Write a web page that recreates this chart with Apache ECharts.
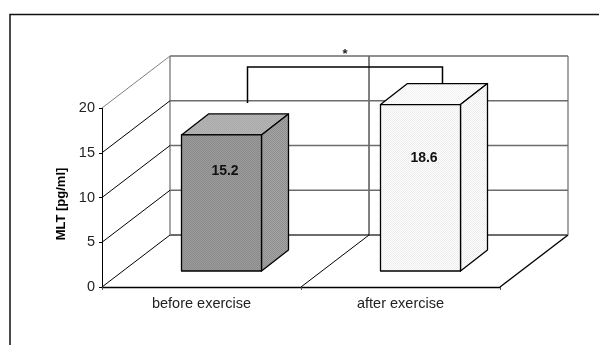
<!DOCTYPE html>
<html>
<head>
<meta charset="utf-8">
<style>
  html, body { margin: 0; padding: 0; background: #fff; }
  #chart { width: 599px; height: 345px; }
</style>
<script src="https://cdn.jsdelivr.net/npm/echarts@6/dist/echarts.min.js"></script>
</head>
<body>
<div id="chart"></div>
<script>
const categories = ['before exercise', 'after exercise']
const values = [15.2, 18.6]
const yTicks = [0, 5, 10, 15, 20]
const significance = '*'

// depth of the fake 3d box, in pixels
const DEPTH_X = 68
const DEPTH_Y = -52
// bars stand part way back on the floor and have their own depth
const BAR_SHIFT_X = 20
const BAR_SHIFT_Y = -16
const BAR_DEPTH_X = 27
const BAR_DEPTH_Y = -21
const BAR_WIDTH = 80
// how far below the bar top each value label sits
const LABEL_DROP = [36, 54]

function dots(bg, fg) {
  const c = document.createElement('canvas')
  c.width = 2
  c.height = 2
  const ctx = c.getContext('2d')
  ctx.fillStyle = bg
  ctx.fillRect(0, 0, 2, 2)
  ctx.fillStyle = fg
  ctx.fillRect(0, 0, 1, 1)
  ctx.fillRect(1, 1, 1, 1)
  return { image: c, repeat: 'repeat' }
}

const barFills = [
  { front: dots('#9c9c9c', '#8a8a8a'), top: dots('#b6b6b6', '#a8a8a8'), side: dots('#a4a4a4', '#8e8e8e') },
  { front: dots('#ffffff', '#ececec'), top: dots('#ffffff', '#f0f0f0'), side: dots('#ffffff', '#ececec') }
]

function line(x1, y1, x2, y2, stroke, width) {
  return { type: 'line', shape: { x1, y1, x2, y2 }, style: { stroke, lineWidth: width } }
}

function renderWalls(params, api) {
  const tick = api.value(0)
  const p = api.coord([0, tick])
  const left = params.coordSys.x
  const right = left + params.coordSys.width
  const children = [
    line(left, p[1], left + DEPTH_X, p[1] + DEPTH_Y, tick === 20 ? '#808080' : '#000', 1),
    line(left + DEPTH_X, p[1] + DEPTH_Y, right + DEPTH_X, p[1] + DEPTH_Y, '#6c6c6c', tick === 0 ? 2 : 1.6)
  ]
  if (tick === 0) {
    const mid = left + params.coordSys.width / 2
    children.push(
      line(mid, p[1], mid + DEPTH_X, p[1] + DEPTH_Y, '#000', 1),
      line(right, p[1], right + DEPTH_X, p[1] + DEPTH_Y, '#000', 1.4),
      line(left + DEPTH_X, p[1] + DEPTH_Y, left + DEPTH_X, params.coordSys.y + DEPTH_Y, '#808080', 1.4),
      line(right + DEPTH_X, p[1] + DEPTH_Y, right + DEPTH_X, params.coordSys.y + DEPTH_Y, '#808080', 1.4),
      line(mid + DEPTH_X, p[1] + DEPTH_Y, mid + DEPTH_X, params.coordSys.y + DEPTH_Y, '#000', 1)
    )
  }
  return { type: 'group', children }
}

function renderBar(params, api) {
  const idx = api.value(0)
  const top = api.coord([idx, api.value(1)])
  const base = api.coord([idx, 0])
  const x0 = top[0] + BAR_SHIFT_X - BAR_WIDTH / 2
  const x1 = x0 + BAR_WIDTH
  const y0 = top[1] + BAR_SHIFT_Y
  const y1 = base[1] + BAR_SHIFT_Y
  const dx = BAR_DEPTH_X
  const dy = BAR_DEPTH_Y
  const fill = barFills[idx]
  const edge = { stroke: '#000', lineWidth: 1.3, lineJoin: 'round' }
  return {
    type: 'group',
    children: [
      { type: 'polygon', shape: { points: [[x0, y0], [x1, y0], [x1 + dx, y0 + dy], [x0 + dx, y0 + dy]] }, style: { fill: fill.top, ...edge } },
      { type: 'polygon', shape: { points: [[x1, y0], [x1 + dx, y0 + dy], [x1 + dx, y1 + dy], [x1, y1]] }, style: { fill: fill.side, ...edge } },
      { type: 'rect', shape: { x: x0, y: y0, width: BAR_WIDTH, height: y1 - y0 }, style: { fill: fill.front, ...edge } },
      {
        type: 'text',
        x: (x0 + x1) / 2 + 3.5,
        y: y0 + LABEL_DROP[idx],
        style: {
          text: api.value(1).toFixed(1),
          fill: '#111',
          font: 'bold 14px "Liberation Sans", Arial, sans-serif',
          textAlign: 'center',
          textVerticalAlign: 'middle'
        }
      }
    ]
  }
}

function renderBracket(params, api) {
  const a = api.coord([0, values[0]])
  const b = api.coord([1, values[1]])
  const x0 = a[0] + 46
  const x1 = b[0] + 42
  const yTop = api.coord([0, 20])[1] - 41
  const yLeft = yTop + 36
  const yRight = yTop + 17
  return {
    type: 'group',
    children: [
      {
        type: 'polyline',
        shape: { points: [[x0, yLeft], [x0, yTop], [x1, yTop], [x1, yRight]] },
        style: { stroke: '#000', lineWidth: 1.5, fill: null }
      },
      {
        type: 'text',
        x: (x0 + x1) / 2,
        y: yTop - 13,
        style: {
          text: significance,
          fill: '#222',
          font: 'bold 13px "Liberation Sans", Arial, sans-serif',
          textAlign: 'center',
          textVerticalAlign: 'middle'
        }
      }
    ]
  }
}

const chart = echarts.init(document.getElementById('chart'), null, { renderer: 'canvas' })
chart.setOption({
  animation: false,
  backgroundColor: '#fff',
  textStyle: { fontFamily: '"Liberation Sans", Arial, sans-serif' },
  graphic: [{
    type: 'polyline',
    silent: true,
    shape: { points: [[10, 345], [10, 14.5], [599, 14.5]] },
    style: { stroke: '#111', lineWidth: 1.5, fill: null }
  }],
  grid: { left: 102, right: 99, top: 108, bottom: 58 },
  xAxis: {
    type: 'category',
    data: categories,
    axisLine: { lineStyle: { color: '#000', width: 1.3 } },
    axisTick: { show: true, alignWithLabel: false, length: 3, lineStyle: { color: '#555' } },
    axisLabel: { color: '#222', fontSize: 14.5, margin: 9 }
  },
  yAxis: {
    type: 'value',
    min: 0,
    max: 20,
    interval: 5,
    name: 'MLT [pg/ml]',
    nameLocation: 'middle',
    nameGap: 33,
    nameTextStyle: { color: '#000', fontSize: 13, fontWeight: 'bold', padding: [0, 13, 0, 0] },
    axisLine: { show: true, lineStyle: { color: '#000', width: 1 } },
    axisTick: { show: true, length: 3, lineStyle: { color: '#000' } },
    axisLabel: { color: '#222', fontSize: 14.5, margin: 7 },
    splitLine: { show: false }
  },
  series: [
    {
      type: 'custom',
      renderItem: renderWalls,
      data: yTicks.map(t => [t]),
      encode: { y: 0 },
      clip: false,
      silent: true,
      z: 1
    },
    {
      type: 'custom',
      renderItem: renderBar,
      data: values.map((v, i) => [i, v]),
      encode: { x: 0, y: 1 },
      clip: false,
      silent: true,
      z: 3
    },
    {
      type: 'custom',
      renderItem: renderBracket,
      data: [[0]],
      clip: false,
      silent: true,
      z: 2
    }
  ]
})
</script>
</body>
</html>
